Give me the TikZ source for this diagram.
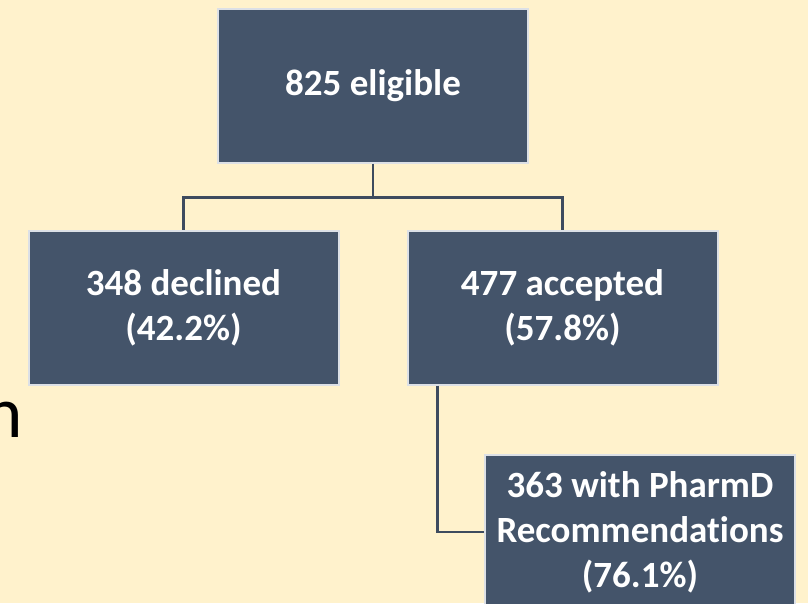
\documentclass[tikz,border=0pt]{standalone}
\usepackage{fontspec}
\setmainfont{Carlito}[Ligatures={NoCommon}]
\begin{document}
\begin{tikzpicture}[x=1pt,y=-1pt,
  box/.style={rectangle, fill=boxfill, draw=boxedge, line width=2pt,
    minimum width=310pt, minimum height=154pt, inner sep=0pt,
    text=white, align=center,
    font=\fontsize{37}{45}\selectfont\bfseries},
  link/.style={draw=linkcol, line width=2.6pt}]
  \definecolor{bg}{HTML}{FFF2CC}
  \definecolor{boxfill}{HTML}{44546A}
  \definecolor{boxedge}{HTML}{DCE0E6}
  \definecolor{linkcol}{HTML}{3E4B5E}
  % page frame and background
  \useasboundingbox (0,0) rectangle (808,603);
  \clip (0,0) rectangle (808,603);
  \fill[bg] (0,0) rectangle (808,603);

  % clipped letter at the left edge
  \node[anchor=base west, inner sep=0pt, text=black,
        font=\fontsize{73}{80}\selectfont] (stub) at (-16,437) {n};

  % boxes
  \node[box] (top)   at (373,85.5)   {825 eligible};
  \node[box] (left)  at (183.5,307.5) {348 declined\\(42.2\%)};
  \node[box] (right) at (562.5,307.5) {477 accepted\\(57.8\%)};
  \node[box] (recs)  at (640,532)    {363 with PharmD\\Recommendations\\(76.1\%)};

  % connectors
  \coordinate (split) at (373,197.5);
  \draw[link] (top.south) -- (split);
  \draw[link] (left.north) |- (split) -| (right.north);
  \draw[link] ([xshift=31pt]right.south west) |- (recs.west);
\end{tikzpicture}
\end{document}
